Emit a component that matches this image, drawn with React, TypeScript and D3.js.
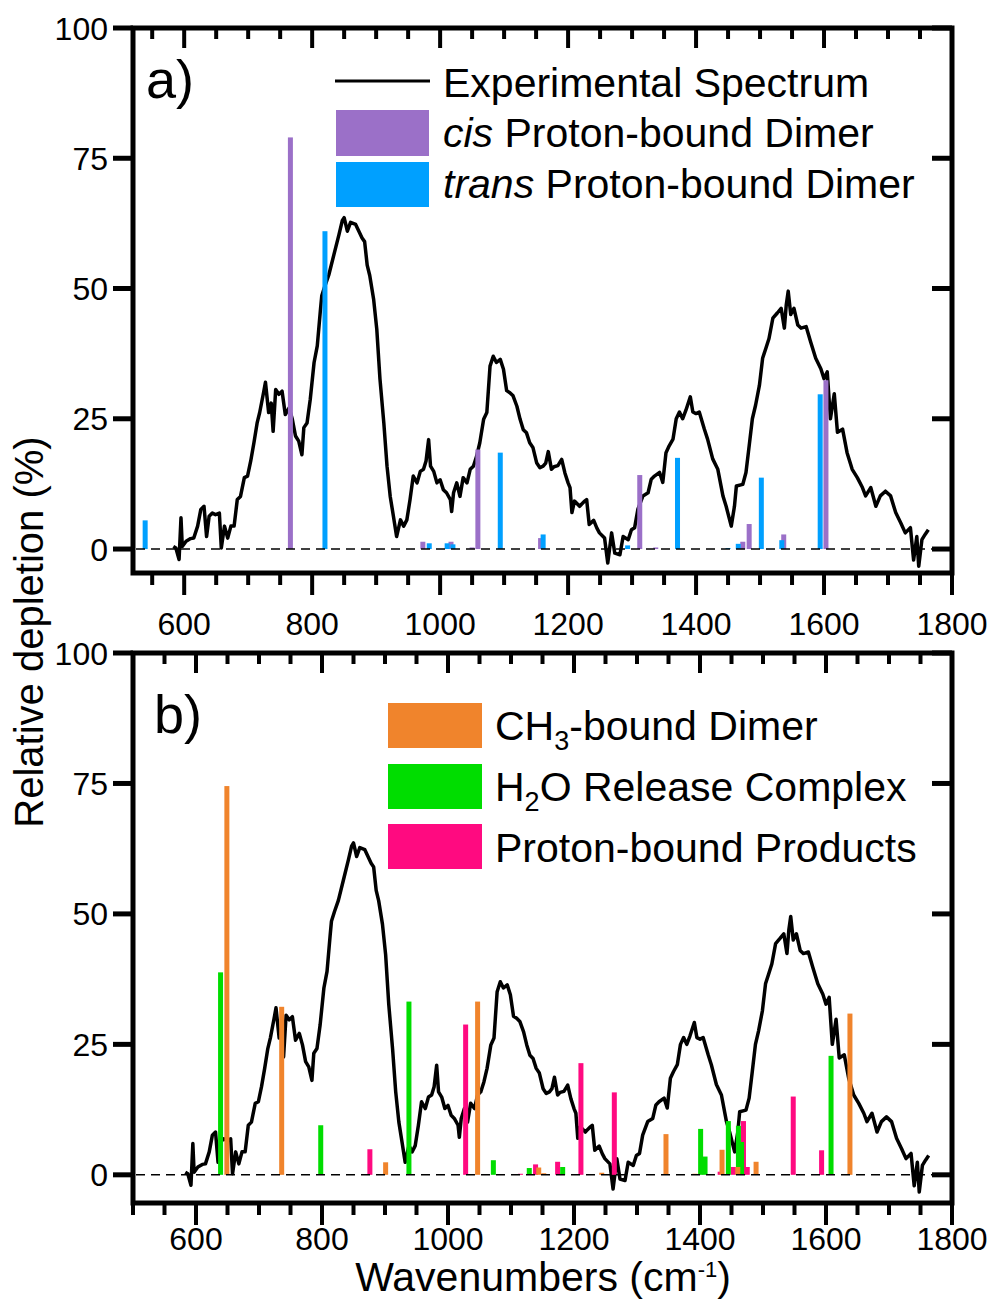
import React from 'react';
import * as d3 from 'd3';

const FONT = '"Liberation Sans", Arial, Helvetica, sans-serif';

// experimental spectrum, [wavenumber (cm-1), relative depletion (%)]
const spectrum: [number, number][] = [
  [583, 0.5], [587, 0.2], [592, -2], [595, 6], [597, 0.5], [603, 1.5], [610, 2], [615, 2.1],
  [621, 4.4], [626, 7.6], [631, 8.2], [635, 2.4], [639, 6.3], [644, 6.9], [649, 6.6], [655, 6.9],
  [658, 0.2], [663, 4.4], [668, 2.1], [673, 4.4], [678, 4.4], [683, 9.5], [688, 10.1], [694, 13.7],
  [699, 14], [704, 16.9], [709, 20.4], [714, 24.2], [718, 26.2], [724, 30], [727, 32], [732, 26.2],
  [736, 28], [739, 22.6], [743, 30.6], [748, 29.7], [753, 30.3], [758, 25.8], [764, 27.1], [769, 24.9],
  [774, 21.7], [779, 20.7], [784, 18.1], [787, 23.3], [792, 24.2], [797, 28.7], [803, 35.8], [808, 39],
  [813, 46], [815, 48.6], [820, 50.5], [826, 52.6], [834, 56.5], [842, 60.4], [847, 63], [850, 63.6],
  [855, 61], [860, 62.7], [868, 62.3], [873, 61], [878, 59.7], [882, 59], [886, 54.5], [890, 52.5],
  [896, 48], [901, 42.2], [906, 32.6], [912, 24.2], [917, 15.9], [922, 10.1], [927, 6.3], [932, 2.4],
  [938, 5.6], [943, 4.4], [948, 5.6], [953, 9.5], [958, 14], [964, 12.7], [969, 14.9], [974, 15.3],
  [978, 16.9], [982, 21], [985, 15.9], [990, 14.9], [995, 12.7], [1000, 13.3], [1005, 11.4], [1010, 10.8],
  [1016, 9.5], [1018, 7.2], [1021, 10.8], [1026, 12.7], [1031, 10.1], [1036, 13.7], [1042, 12.7], [1047, 15.3],
  [1052, 15.9], [1057, 17.8], [1062, 20.4], [1068, 24.9], [1073, 26.2], [1078, 35.1], [1083, 37], [1088, 35.8],
  [1094, 36.4], [1099, 34.5], [1104, 30.4], [1109, 30], [1114, 29.4], [1120, 27.4], [1125, 24.9], [1130, 22.9],
  [1135, 22.3], [1140, 20.4], [1145, 19.5], [1151, 16.5], [1156, 15.6], [1161, 15.9], [1165, 16.5], [1169, 18.7],
  [1174, 15.3], [1178, 15.8], [1184, 16], [1190, 17.2], [1195, 14.6], [1200, 12.7], [1203, 11.8], [1206, 7],
  [1210, 9.2], [1218, 8.2], [1221, 8.6], [1226, 9.2], [1229, 9.5], [1233, 4.7], [1240, 5.5], [1245, 4],
  [1249, 3.1], [1257, 2.1], [1262, -2.7], [1268, 3.1], [1273, -0.8], [1281, -1.1], [1286, 2.4], [1294, 1.8],
  [1299, 3.7], [1304, 4.1], [1309, 7.6], [1317, 10.2], [1325, 10.8], [1330, 13.4], [1335, 14], [1343, 14.7],
  [1348, 12.8], [1353, 18.5], [1358, 19.8], [1364, 21.1], [1369, 25], [1374, 26.3], [1379, 25], [1384, 26.6],
  [1391, 29.2], [1395, 26.3], [1400, 26], [1405, 26.3], [1413, 23], [1418, 21.1], [1426, 17.3], [1434, 15.3],
  [1442, 10.2], [1447, 8.2], [1455, 4.4], [1460, 8.2], [1463, 12.1], [1473, 12.4], [1478, 14.7], [1483, 19.8],
  [1488, 25], [1493, 27.6], [1499, 31.4], [1504, 36.6], [1509, 38.5], [1514, 40.4], [1520, 44.3], [1527, 45.3],
  [1533, 46.2], [1538, 42.4], [1541, 46.9], [1544, 49.5], [1548, 45], [1553, 46.2], [1559, 43], [1564, 42.4],
  [1572, 42.7], [1579, 39.8], [1587, 36.6], [1595, 34.6], [1600, 32.7], [1605, 34], [1610, 25], [1616, 29.8],
  [1621, 22.4], [1629, 23], [1636, 18.5], [1644, 15.3], [1652, 13.7], [1660, 11.8], [1665, 10.2], [1673, 11.8],
  [1681, 8.2], [1688, 10.2], [1696, 11.1], [1704, 10.2], [1712, 7], [1720, 5], [1727, 3.1], [1735, 4.1],
  [1740, -2.1], [1745, 2.4], [1748, -3.3], [1753, 1.8], [1758, 2.8], [1763, 3.7],
];

// computed stick spectra, [wavenumber, intensity %]
const cisBars: [number, number][] = [
  [766, 79], [973, 1.4], [1017, 1.4], [1050, 0.3], [1059, 19.1], [1157, 2.1],
  [1312, 14.2], [1337, 0.3], [1473, 1.4], [1483, 4.8], [1537, 2.8], [1603, 32.4],
];
const transBars: [number, number][] = [
  [539, 5.5], [820, 61], [983, 1.1], [1011, 1.1], [1020, 0.9], [1094, 18.5], [1161, 2.8],
  [1293, 0.7], [1371, 17.5], [1450, 0.2], [1466, 1.0], [1502, 13.7], [1534, 1.7], [1594, 29.7],
];
const ch3Bars: [number, number][] = [
  [649, 74.5], [736, 32.2], [901, 2.4], [1047, 33.2], [1144, 1.4], [1152, 0.3], [1244, 0.4],
  [1346, 7.8], [1392, 0.2], [1435, 4.8], [1460, 1.5], [1489, 2.5], [1638, 30.9],
];
const h2oBars: [number, number][] = [
  [639, 38.8], [798, 9.5], [938, 33.2], [1072, 2.8], [1129, 1.3], [1182, 1.5], [1401, 8.8],
  [1408, 3.5], [1445, 10.3], [1461, 9.4], [1466, 6.3], [1608, 22.8],
];
const productBars: [number, number][] = [
  [876, 4.9], [1028, 28.8], [1115, 0.2], [1139, 2.0], [1174, 2.5], [1211, 21.4], [1264, 15.8],
  [1432, 0.6], [1453, 1.5], [1469, 10.3], [1475, 1.5], [1548, 15.0], [1593, 4.7],
];

const yTicks = [0, 25, 50, 75, 100];
const xLabels = [600, 800, 1000, 1200, 1400, 1600, 1800];

const LEFT = 133;
const RIGHT = 952;

type Series = { data: [number, number][]; color: string };

function Panel(props: {
  top: number;
  bottom: number;
  xMin: number;
  yMin: number;
  labelY: number;
  series: Series[];
}) {
  const { top, bottom, xMin, yMin, labelY, series } = props;
  const x = d3.scaleLinear().domain([xMin, 1800]).range([LEFT, RIGHT]);
  const y = d3.scaleLinear().domain([yMin, 100]).range([bottom, top]);
  const line = d3.line<[number, number]>().x(d => x(d[0])).y(d => y(d[1]));
  const xTicks = d3.range(Math.ceil(xMin / 50) * 50, 1801, 50);
  const isMajor = (v: number) => v >= 600 && v % 200 === 0;
  const barW = 5;

  return (
    <g>
      {/* experimental spectrum */}
      <path d={line(spectrum) || ''} fill='none' stroke='#000' strokeWidth={3.5} strokeLinejoin='round' />

      {/* stick spectra */}
      {series.map((s, i) => (
        <g key={i} fill={s.color}>
          {s.data.map((d, j) => (
            <rect key={j} x={x(d[0]) - barW / 2} y={y(d[1])} width={barW} height={y(0) - y(d[1])} />
          ))}
        </g>
      ))}

      {/* zero line */}
      <line x1={LEFT + 3} x2={RIGHT - 3} y1={y(0)} y2={y(0)} stroke='#000' strokeWidth={1.6} strokeDasharray='9,6' />

      {/* frame */}
      <rect x={LEFT} y={top} width={RIGHT - LEFT} height={bottom - top} fill='none' stroke='#000' strokeWidth={5} />

      {/* x ticks: outward at bottom, inward at top */}
      {xTicks.map(v => (
        <g key={v} stroke='#000' strokeWidth={4}>
          <line x1={x(v)} x2={x(v)} y1={bottom} y2={bottom + (isMajor(v) ? 22 : 12)} />
          <line x1={x(v)} x2={x(v)} y1={top} y2={top + (isMajor(v) ? 20 : 11)} />
        </g>
      ))}
      {xLabels.map(v => (
        <text key={v} x={x(v)} y={labelY} textAnchor='middle' fontSize={32} fontFamily={FONT}>{v}</text>
      ))}

      {/* y ticks: outward at left, inward at right */}
      {yTicks.map(v => (
        <g key={v}>
          <line x1={LEFT - 20} x2={LEFT} y1={y(v)} y2={y(v)} stroke='#000' strokeWidth={5} />
          <line x1={RIGHT - 20} x2={RIGHT} y1={y(v)} y2={y(v)} stroke='#000' strokeWidth={5} />
          <text x={108} y={y(v)} dy='0.36em' textAnchor='end' fontSize={32} fontFamily={FONT}>{v}</text>
        </g>
      ))}
    </g>
  );
}

export default function App() {
  const cis = '#9B70C8';
  const trans = '#00A0FF';
  const ch3 = '#F0842C';
  const h2o = '#00DD00';
  const prod = '#FF0A80';
  const fs = 41;

  return (
    <svg width={994} height={1300} style={{ position: 'absolute', left: 0, top: 0, background: '#fff' }}
      fontFamily={FONT}>
      <Panel top={28} bottom={573} xMin={520} yMin={-4.6} labelY={635}
        series={[{ data: cisBars, color: cis }, { data: transBars, color: trans }]} />
      <Panel top={653} bottom={1203} xMin={500} yMin={-5.4} labelY={1250}
        series={[{ data: productBars, color: prod }, { data: h2oBars, color: h2o }, { data: ch3Bars, color: ch3 }]} />

      {/* panel labels */}
      <text x={146} y={98} fontSize={54}>a)</text>
      <text x={154} y={733} fontSize={54}>b)</text>

      {/* legend a */}
      <line x1={335} x2={430} y1={81} y2={81} stroke='#000' strokeWidth={3} />
      <text x={443} y={97} fontSize={fs}>Experimental Spectrum</text>
      <rect x={336} y={110} width={93} height={46} fill={cis} />
      <text x={443} y={147} fontSize={fs}><tspan fontStyle='italic'>cis</tspan> Proton-bound Dimer</text>
      <rect x={336} y={162} width={93} height={45} fill={trans} />
      <text x={443} y={198} fontSize={fs}><tspan fontStyle='italic'>trans</tspan> Proton-bound Dimer</text>

      {/* legend b */}
      <rect x={388} y={703} width={94} height={45} fill={ch3} />
      <text x={495} y={740} fontSize={fs}>CH<tspan fontSize={27} dy={10}>3</tspan><tspan dy={-10}>-bound Dimer</tspan></text>
      <rect x={388} y={764} width={94} height={45} fill={h2o} />
      <text x={495} y={801} fontSize={fs}>H<tspan fontSize={27} dy={10}>2</tspan><tspan dy={-10}>O Release Complex</tspan></text>
      <rect x={388} y={824} width={94} height={45} fill={prod} />
      <text x={495} y={862} fontSize={fs}>Proton-bound Products</text>

      {/* axis titles */}
      <text transform='translate(43,632) rotate(-90)' textAnchor='middle' fontSize={40}>Relative depletion (%)</text>
      <text x={543} y={1291} textAnchor='middle' fontSize={41}>
        Wavenumbers (cm<tspan fontSize={22} dy={-14}>-1</tspan><tspan dy={14}>)</tspan>
      </text>
    </svg>
  );
}
